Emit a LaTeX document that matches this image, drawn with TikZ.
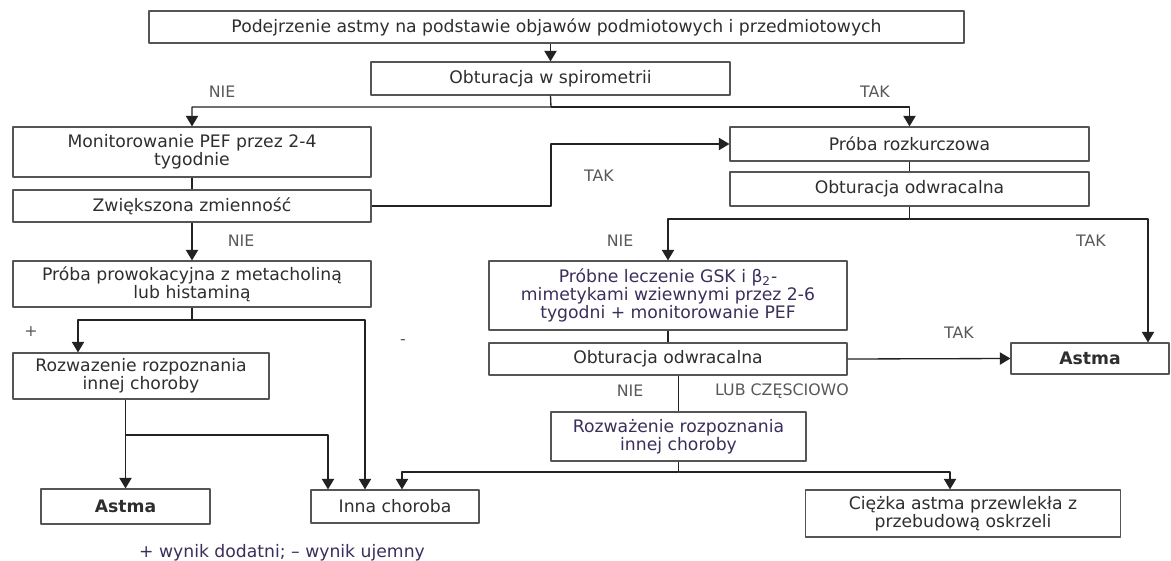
\documentclass[tikz,border=0pt]{standalone}
\usepackage{fontspec}
\setmainfont{DejaVu Sans}
\usetikzlibrary{arrows.meta}
\definecolor{ramka}{HTML}{555555}
\definecolor{tekst}{HTML}{2E2E2E}
\definecolor{fiolet}{HTML}{3B2E5A}
\definecolor{linia}{HTML}{222222}
\newcommand\rozm{\fontsize{9.8}{10.3}\selectfont}
\begin{document}
\begin{tikzpicture}[x=0.02cm, y=-0.02cm, line join=round, >={Triangle[length=6pt,width=7pt]},
		font=\rozm, line width=0.75pt, draw=linia,
		box/.style={draw=ramka, line width=0.7pt, text=tekst, align=center, inner sep=0pt},
		wh/.style 2 args={minimum width=#1*0.02cm, minimum height=#2*0.02cm},
		lbl/.style={text=tekst!80, font=\fontsize{9}{10}\selectfont}]
				\useasboundingbox (0,0) rectangle (1171,561);
				\node[box, wh={815}{32}] (podejrz) at (556.5,27) {Podejrzenie astmy na podstawie objawów podmiotowych i przedmiotowych};
				\node[box, wh={359}{33}] (spiro) at (550.5,78.5) {Obturacja w spirometrii};
				\node[box, wh={358}{50}] (monit) at (192,152) {Monitorowanie PEF przez 2-4\\tygodnie};
				\node[box, wh={358}{32}] (zmienn) at (192,206) {Zwiększona zmienność};
				\node[box, wh={359}{34}] (rozkurcz) at (909.5,144) {Próba rozkurczowa};
				\node[box, wh={359}{34}] (odwrac1) at (909.5,189) {Obturacja odwracalna};
				\node[box, wh={358}{46}] (prowok) at (192,284) {Próba prowokacyjna z metacholiną\\lub histaminą};
				\node[box, wh={358}{69}, text=fiolet] (probne) at (668,295.5) {Próbne leczenie GSK i β\textsubscript{2}-\\mimetykami wziewnymi przez 2-6\\tygodni + monitorowanie PEF};
				\node[box, wh={358}{32}] (odwrac2) at (668,359) {Obturacja odwracalna};
				\node[box, wh={158}{31}, font=\rozm\bfseries] (astmaP) at (1090,358.5) {Astma};
				\node[box, wh={256}{46}] (rozwL) at (141,376) {Rozwazenie rozpoznania\\innej choroby};
				\node[box, wh={255}{49}, text=fiolet] (rozwP) at (678.5,436.5) {Rozważenie rozpoznania\\innej choroby};
				\node[box, wh={169}{35}, font=\rozm\bfseries] (astmaL) at (125.5,506.5) {Astma};
				\node[box, wh={168}{33}] (inna) at (395,506.5) {Inna choroba};
				\node[box, wh={315}{47}] (ciezka) at (963,513.5) {Ciężka astma przewlekła z\\przebudową oskrzeli};
				\node[lbl] (nie1) at (222,92) {NIE};
				\node[lbl] (tak1) at (875,92) {TAK};
				\node[lbl] (tak2) at (599,176) {TAK};
				\node[lbl] (nie2) at (241,241) {NIE};
				\node[lbl] (nie3) at (620,241) {NIE};
				\node[lbl] (tak3) at (1091,241) {TAK};
				\node[lbl] (plus) at (31,332) {+};
				\node[lbl] (minus) at (403,342) {-};
				\node[lbl] (tak4) at (959,333) {TAK};
				\node[lbl] (nie4) at (630,391) {NIE};
				\node[lbl] (lub) at (782,391) {LUB CZĘSCIOWO};
				\node[text=fiolet] (legenda) at (282,553) {+ wynik dodatni; – wynik ujemny};
				\coordinate (w1) at (551,107);
				\coordinate (w2) at (909.5,219);
				\coordinate (w3) at (1148,219);
				\coordinate (w4) at (678.5,472);
				\coordinate (w5) at (192,320);
				\coordinate (w6) at (125.5,435);
				\coordinate (l1) at (78,0);
				\coordinate (i1) at (328,0);
				\coordinate (i2) at (365,0);
				\coordinate (i3) at (402,0);
				\coordinate (c1) at (950,0);
				\draw[->] (podejrz.south -| spiro.north) -- (spiro.north);
				\draw[->] (spiro.south) -- (w1) -| (monit.north);
				\draw[->] (w1) -| (rozkurcz.north);
				\draw (monit) -- (zmienn);
				\draw[->] (zmienn.east) -| (w1 |- rozkurcz.west) -- (rozkurcz.west);
				\draw (rozkurcz) -- (odwrac1);
				\draw[->] (odwrac1.south) -- (w2) -| (probne.north);
				\draw[->] (w2) -- (w3) -- (w3 |- astmaP.north);
				\draw (probne) -- (odwrac2);
				\draw[->] (odwrac2.east) -- (astmaP.west);
				\draw (odwrac2.south -| rozwP.north) -- (rozwP.north);
				\draw[->] (rozwP.south) -- (w4) -| (inna.north -| i3);
				\draw[->] (w4) -| (ciezka.north -| c1);
				\draw[->] (zmienn) -- (prowok);
				\draw[->] (prowok.south) -- (w5) -| (rozwL.north -| l1);
				\draw[->] (w5) -| (inna.north -| i2);
				\draw[->] (rozwL.south -| astmaL.north) -- (astmaL.north);
				\draw[->] (w6) -| (inna.north -| i1);
		\end{tikzpicture}
\end{document}
